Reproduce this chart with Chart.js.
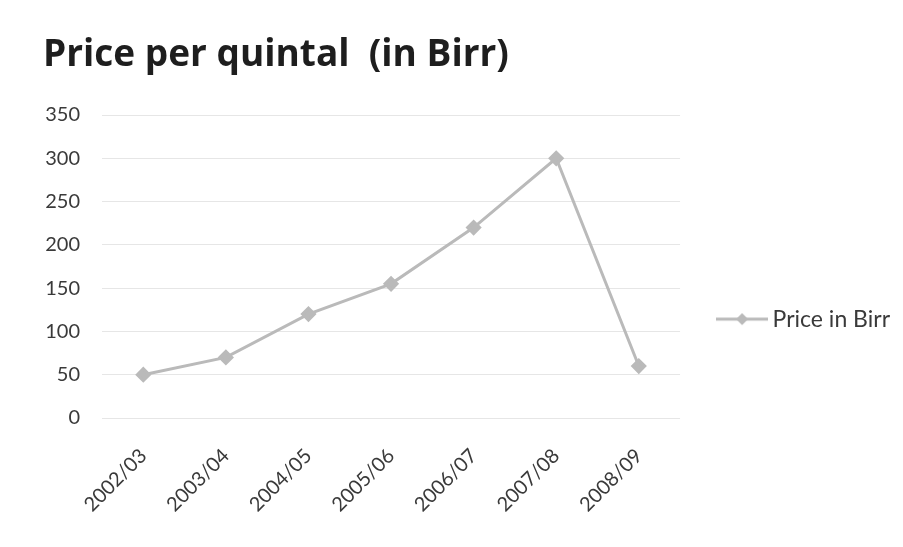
<!DOCTYPE html>
<html><head><meta charset="utf-8">
<script src="https://cdn.jsdelivr.net/npm/chart.js@4"></script>
<style>html,body{margin:0;padding:0;background:#fff;} #wrap{width:903px;height:547px;position:relative;}</style>
</head><body><div id="wrap"><canvas id="c"></canvas></div>
<script>
const categories = ['2002/03','2003/04','2004/05','2005/06','2006/07','2007/08','2008/09'];
const priceInBirr = [50, 70, 120, 155, 220, 300, 60];
const yTickMin = 0;
const yTickMax = 350;
const yTickStep = 50;
const seriesName = 'Price in Birr';
const chartTitle = 'Price per quintal  (in Birr)';

const lineColor = '#bababa';
const textColor = '#3a3a3a';
const font = 'Lato';

function legendIcon(){
  const c = document.createElement('canvas');
  c.width = 52; c.height = 14;
  const g = c.getContext('2d');
  g.strokeStyle = lineColor; g.lineWidth = 3;
  g.beginPath(); g.moveTo(0,7); g.lineTo(52,7); g.stroke();
  g.fillStyle = lineColor;
  g.beginPath(); g.moveTo(26,1); g.lineTo(32,7); g.lineTo(26,13); g.lineTo(20,7); g.closePath(); g.fill();
  return c;
}

new Chart(document.getElementById('c'), {
  type: 'line',
  data: {
    labels: categories,
    datasets: [{
      label: seriesName,
      data: priceInBirr,
      borderColor: lineColor,
      backgroundColor: lineColor,
      borderWidth: 3,
      pointStyle: 'rectRot',
      pointRadius: 6,
      pointBackgroundColor: lineColor,
      pointBorderColor: lineColor,
      tension: 0
    }]
  },
  options: {
    responsive: true,
    maintainAspectRatio: false,
    animation: false,
    layout: { padding: { left: 43, right: 3, top: 0, bottom: 0 } },
    plugins: {
      title: {
        display: true, text: chartTitle, align: 'start', color: '#1e1e1e',
        font: { family: 'Open Sans', size: 37, weight: 'bold' },
        padding: { top: 33, bottom: 37.6 }
      },
      legend: {
        position: 'right',
        maxWidth: 224,
        title: { display: true, text: ' ', font: { size: 1 }, padding: { top: 0, bottom: 90 } },
        labels: {
          usePointStyle: true, pointStyle: legendIcon(), pointStyleWidth: 38,
          font: { family: font, size: 23 }, color: textColor, padding: 43
        }
      },
      tooltip: { enabled: false }
    },
    scales: {
      y: {
        min: yTickMin, max: yTickMax,
        ticks: { stepSize: yTickStep, font: { family: font, size: 20 }, color: textColor, padding: 22 },
        grid: { color: '#e6e6e6', drawTicks: false, lineWidth: 1 },
        border: { display: false },
        afterFit: s => { s.width = 59; }
      },
      x: {
        offset: true,
        grid: { display: false, drawTicks: false },
        border: { display: false },
        ticks: { font: { family: font, size: 20 }, color: textColor, minRotation: 45, maxRotation: 45, autoSkip: false, padding: 26 },
        afterFit: s => { s.height = 129; }
      }
    }
  }
});
</script>
</body></html>
